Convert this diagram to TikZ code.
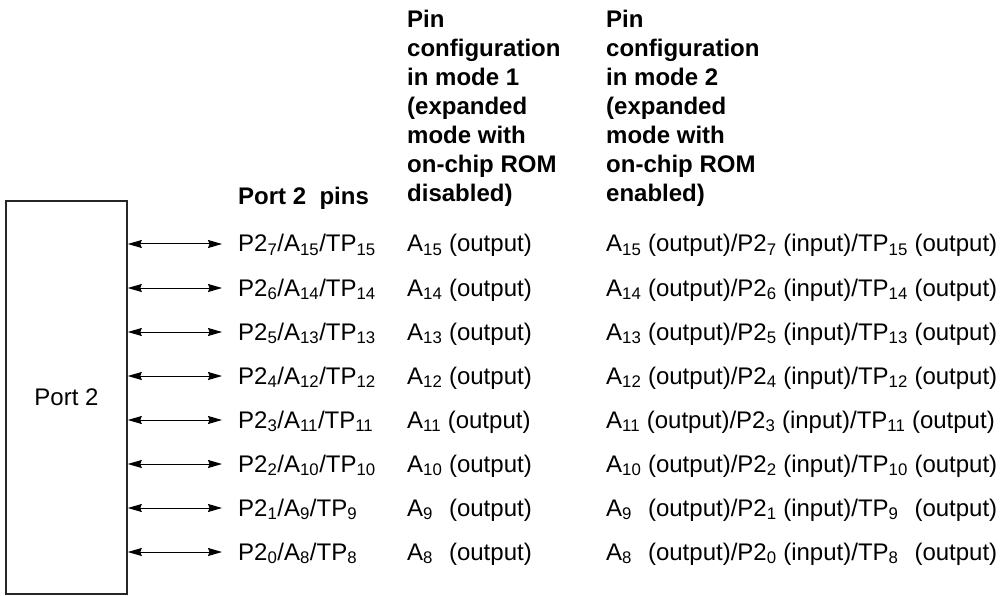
\documentclass[tikz,border=0pt]{standalone}
\usepackage{fontspec}
\setmainfont{Liberation Sans}
\usepackage{tikz}
\usetikzlibrary{positioning, arrows.meta, calc}
\tikzset{
  port box/.style={
    draw=black!85,
    line width=1.6pt,
    minimum width=121pt, minimum height=393pt,
    inner sep=0pt,
    font=\fontsize{24}{29}\selectfont
  },
  pin label/.style={
    anchor=west, inner sep=0pt,
    text height=16pt, text depth=0pt,
    font=\fontsize{24}{29}\selectfont
  },
  col head/.style={
    anchor=north west, inner sep=0pt, align=left,
    font=\fontsize{24}{29}\selectfont\bfseries
  },
  pin arrow/.style={
    {Stealth[length=14pt,width=8pt,inset=1.5pt]}-{Stealth[length=14pt,width=8pt,inset=1.5pt]},
    line width=1pt
  }
}

\begin{document}
\begin{tikzpicture}[x=1pt, y=-1pt]
  \useasboundingbox (0,0) rectangle (1007,596);

  % Port block
  \node[port box] (port) at (66.5,397.5) {Port 2};

  % Headers
  \node[col head, anchor=base west] (hpins) at (238,205) {Port 2\ \ pins};
  \node[col head] (hmode1) at (407,10) {Pin\\configuration\\in mode 1\\(expanded\\mode with\\on-chip ROM\\disabled)};
  \node[col head] (hmode2) at (606,10) {Pin\\configuration\\in mode 2\\(expanded\\mode with\\on-chip ROM\\enabled)};

  % Pin names
  \node[pin label] (p7) at (238,244) {P2\textsubscript{7}/A\textsubscript{15}/TP\textsubscript{15}};
  \node[pin label] (p6) at (238,288) {P2\textsubscript{6}/A\textsubscript{14}/TP\textsubscript{14}};
  \node[pin label] (p5) at (238,332) {P2\textsubscript{5}/A\textsubscript{13}/TP\textsubscript{13}};
  \node[pin label] (p4) at (238,376) {P2\textsubscript{4}/A\textsubscript{12}/TP\textsubscript{12}};
  \node[pin label] (p3) at (238,420) {P2\textsubscript{3}/A\textsubscript{11}/TP\textsubscript{11}};
  \node[pin label] (p2) at (238,464) {P2\textsubscript{2}/A\textsubscript{10}/TP\textsubscript{10}};
  \node[pin label] (p1) at (238,508) {P2\textsubscript{1}/A\textsubscript{9}/TP\textsubscript{9}};
  \node[pin label] (p0) at (238,552) {P2\textsubscript{0}/A\textsubscript{8}/TP\textsubscript{8}};

  % Mode 1
  \node[pin label] (a7) at (407,244) {A\textsubscript{15} (output)};
  \node[pin label] (a6) at (407,288) {A\textsubscript{14} (output)};
  \node[pin label] (a5) at (407,332) {A\textsubscript{13} (output)};
  \node[pin label] (a4) at (407,376) {A\textsubscript{12} (output)};
  \node[pin label] (a3) at (407,420) {A\textsubscript{11} (output)};
  \node[pin label] (a2) at (407,464) {A\textsubscript{10} (output)};
  \node[pin label] (a1) at (407,508) {A\textsubscript{9\phantom{5}} (output)};
  \node[pin label] (a0) at (407,552) {A\textsubscript{8\phantom{5}} (output)};

  % Mode 2
  \node[pin label] (b7) at (606,244) {A\textsubscript{15} (output)/P2\textsubscript{7} (input)/TP\textsubscript{15} (output)};
  \node[pin label] (b6) at (606,288) {A\textsubscript{14} (output)/P2\textsubscript{6} (input)/TP\textsubscript{14} (output)};
  \node[pin label] (b5) at (606,332) {A\textsubscript{13} (output)/P2\textsubscript{5} (input)/TP\textsubscript{13} (output)};
  \node[pin label] (b4) at (606,376) {A\textsubscript{12} (output)/P2\textsubscript{4} (input)/TP\textsubscript{12} (output)};
  \node[pin label] (b3) at (606,420) {A\textsubscript{11} (output)/P2\textsubscript{3} (input)/TP\textsubscript{11} (output)};
  \node[pin label] (b2) at (606,464) {A\textsubscript{10} (output)/P2\textsubscript{2} (input)/TP\textsubscript{10} (output)};
  \node[pin label] (b1) at (606,508) {A\textsubscript{9\phantom{5}} (output)/P2\textsubscript{1} (input)/TP\textsubscript{9\phantom{5}} (output)};
  \node[pin label] (b0) at (606,552) {A\textsubscript{8\phantom{5}} (output)/P2\textsubscript{0} (input)/TP\textsubscript{8\phantom{5}} (output)};

  % Arrows
  \draw[pin arrow] (port.east |- p7.west) -- ([xshift=-16pt]p7.west);
  \draw[pin arrow] (port.east |- p6.west) -- ([xshift=-16pt]p6.west);
  \draw[pin arrow] (port.east |- p5.west) -- ([xshift=-16pt]p5.west);
  \draw[pin arrow] (port.east |- p4.west) -- ([xshift=-16pt]p4.west);
  \draw[pin arrow] (port.east |- p3.west) -- ([xshift=-16pt]p3.west);
  \draw[pin arrow] (port.east |- p2.west) -- ([xshift=-16pt]p2.west);
  \draw[pin arrow] (port.east |- p1.west) -- ([xshift=-16pt]p1.west);
  \draw[pin arrow] (port.east |- p0.west) -- ([xshift=-16pt]p0.west);
\end{tikzpicture}
\end{document}
